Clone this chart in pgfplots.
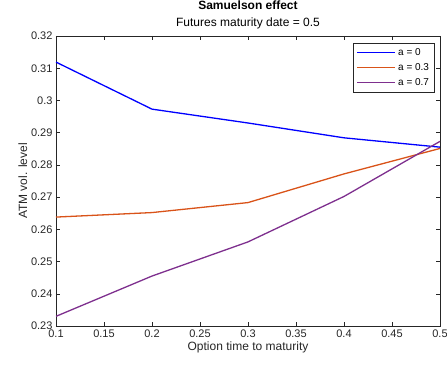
\documentclass[border=0pt]{standalone}
\usepackage{fontspec}
\setmainfont{Liberation Sans}
\usepackage{pgfplots}
\pgfplotsset{compat=1.18}
\definecolor{mblue}{rgb}{0,0,1}
\definecolor{morange}{rgb}{0.85,0.325,0.098}
\definecolor{mpurple}{rgb}{0.494,0.184,0.556}
\definecolor{maxis}{rgb}{0.15,0.15,0.15}
\pgfplotsset{
  legend image code/.code={\draw[#1, line width=1.6pt] (0pt,0pt) -- (38pt,0pt);},
}
\begin{document}
\begin{tikzpicture}
\begin{axis}[
  name=ax,
  scale only axis,
  width=384pt, height=290pt,
  xmin=0.1, xmax=0.5, ymin=0.23, ymax=0.32,
  xtick={0.1,0.15,...,0.5},
  ytick={0.23,0.24,...,0.32},
  /pgf/number format/assume math mode=true,
  /pgf/number format/.cd, fixed, precision=2, /pgfplots/.cd,
  tick align=inside,
  major tick length=4pt,
  axis line style={maxis, line width=0.5pt},
  tick style={maxis, line width=0.5pt},
  ticklabel style={font=\fontsize{11}{12}\selectfont, text=maxis},
  xlabel={Option time to maturity},
  ylabel={ATM vol. level},
  label style={font=\fontsize{12}{13}\selectfont, text=maxis},
  xlabel style={yshift=2pt},
  ylabel style={yshift=-3pt},
  title={{\bfseries Samuelson effect}\\Futures maturity date = 0.5},
  title style={align=center, font=\fontsize{12}{17.5}\selectfont, yshift=-3pt},
  legend style={at={(0.985,0.975)}, anchor=north east, draw=maxis,
    font=\fontsize{10}{12}\selectfont, row sep=2.5pt, inner sep=3pt},
  legend cell align=left,
]
\addplot[mblue, line width=1.3pt] coordinates {(0.1,0.3119) (0.2,0.2973) (0.3,0.2930) (0.4,0.2884) (0.5,0.2855)};
\addlegendentry{a = 0}
\addplot[morange, line width=1.3pt] coordinates {(0.1,0.2638) (0.2,0.2652) (0.3,0.2683) (0.4,0.2772) (0.5,0.2851)};
\addlegendentry{a = 0.3}
\addplot[mpurple, line width=1.3pt] coordinates {(0.1,0.2330) (0.2,0.2455) (0.3,0.2561) (0.4,0.2702) (0.5,0.2873)};
\addlegendentry{a = 0.7}
\end{axis}
\pgfresetboundingbox
\path[use as bounding box] ([xshift=-56pt,yshift=-45pt]ax.south west) rectangle ([xshift=7pt,yshift=36pt]ax.north east);
\end{tikzpicture}
\end{document}
